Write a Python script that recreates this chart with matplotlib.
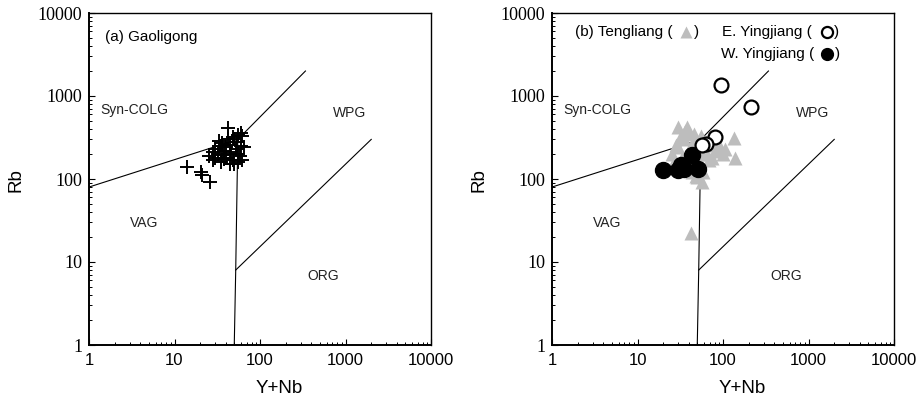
import numpy as np
import matplotlib
matplotlib.use("Agg")
from matplotlib import pyplot as plt

plt.rcParams['font.family'] = 'Liberation Sans'

# Pearce et al. (1984) boundary lines (Y+Nb, Rb)
colg_vag = ([1, 55], [80, 300])
colg_wpg = ([55, 340], [300, 2000])
vag_org = ([50, 52, 55], [1, 8, 300])
wpg_org = ([52, 2000], [8, 300])

region_names = ["Syn-COLG", "WPG", "VAG", "ORG"]
region_x = [3.4, 1110, 4.4, 555]
region_y = [680, 620, 29.5, 6.8]

# (a) Gaoligong
gao_x = [42, 14, 20.5, 21, 26, 60, 55, 65, 62, 25, 28, 30, 32, 34, 36, 38, 40, 42, 44,
         46, 48, 50, 52, 54, 56, 58, 60, 35, 30, 45, 50, 40, 33, 48, 55, 38, 28, 62, 44, 36]
gao_y = [410, 140, 122, 112, 92, 360, 340, 240, 330, 190, 210, 230, 200, 250, 270, 220,
         180, 300, 260, 200, 170, 150, 230, 280, 160, 190, 250, 160, 180, 150, 300, 240,
         290, 320, 200, 175, 170, 170, 210, 195]

# (b) Tengliang
ten_x = [30, 38, 134, 137, 57, 42.5, 25, 28, 32, 35, 40, 45, 50, 55, 60, 65, 70, 80, 90,
         100, 27, 33, 37, 43, 48, 52, 58, 63, 75, 85, 30, 36, 46, 54, 68, 105, 42, 50]
ten_y = [420, 420, 313, 179, 92, 22.4, 200, 260, 330, 300, 360, 280, 250, 330, 230, 200,
         260, 220, 240, 200, 160, 180, 140, 120, 110, 160, 120, 280, 180, 290, 240, 380,
         350, 200, 170, 230, 130, 105]

# E. Yingjiang
ey_x = [95, 212, 81, 63.5, 57]
ey_y = [1360, 735, 322, 264, 256]

# W. Yingjiang
wy_x = [20, 32.5, 35, 43.5, 51, 30]
wy_y = [128, 147, 132, 194, 132, 130]

fig = plt.figure(figsize=(9.19, 3.97), dpi=100)
W, H = 919.0, 397.0
ax1 = fig.add_axes([89 / W, 1 - 345 / H, 342 / W, 332 / H])
ax2 = fig.add_axes([552 / W, 1 - 345 / H, 342 / W, 332 / H])

for ax in (ax1, ax2):
    ax.set_xscale('log')
    ax.set_yscale('log')
    ax.set_xlim(1, 10000)
    ax.set_ylim(1, 10000)
    for xs, ys in (colg_vag, colg_wpg, vag_org, wpg_org):
        ax.plot(xs, ys, color='black', lw=0.8, zorder=2)
    for name, x, y in zip(region_names, region_x, region_y):
        ax.text(x, y, name, fontsize=10, ha='center', va='center', color='#222222')
    ax.set_xticks([1, 10, 100, 1000, 10000])
    ax.set_xticklabels(['1', '10', '100', '1000', '10000'], fontsize=12)
    ax.set_yticks([1, 10, 100, 1000, 10000])
    ax.set_yticklabels(['1', '10', '100', '1000', '10000'], fontsize=13,
                       family='Liberation Serif')
    ax.tick_params(which='both', direction='in', top=False, right=False)
    ax.tick_params(which='major', length=4, width=0.8)
    ax.tick_params(which='minor', length=2.5, width=0.7)
    ax.tick_params(axis='x', pad=6)
    ax.tick_params(axis='y', pad=5)
    for s in ax.spines.values():
        s.set_linewidth(1.0)
    ax.spines['bottom'].set_linewidth(1.4)
    ax.spines['left'].set_linewidth(1.4)
    ax.set_xlabel('Y+Nb', fontsize=13.5)
    ax.set_ylabel('Rb', fontsize=13.5)
    ax.xaxis.set_label_coords(0.556, -0.105)

ax1.yaxis.set_label_coords(-0.19, 0.497)
ax2.yaxis.set_label_coords(-0.19, 0.497)

ax1.plot(gao_x, gao_y, '+', color='black', ms=10, mew=1.4, zorder=3)
ax1.text(0.047, 0.928, '(a) Gaoligong', transform=ax1.transAxes, fontsize=11,
         ha='left', va='center')

ax2.plot(ten_x, ten_y, '^', color='#bdbdbd', ms=9.5, mec='none', zorder=3)
ax2.plot(wy_x, wy_y, 'o', color='black', ms=11.5, mec='black', zorder=4)
ax2.plot(ey_x, ey_y, 'o', mfc='white', mec='black', ms=10, mew=1.6, zorder=5)

# header text with marker symbols
ax2.text(0.067, 0.943, '(b) Tengliang (', transform=ax2.transAxes, fontsize=11,
         ha='left', va='center')
ax2.plot([0.393], [0.943], '^', color='#bdbdbd', ms=9, mec='none', transform=ax2.transAxes)
ax2.text(0.414, 0.943, ')', transform=ax2.transAxes, fontsize=11, ha='left', va='center')
ax2.text(0.497, 0.943, 'E. Yingjiang (', transform=ax2.transAxes, fontsize=11,
         ha='left', va='center')
ax2.plot([0.803], [0.943], 'o', mfc='white', mec='black', ms=8, mew=1.6,
         transform=ax2.transAxes)
ax2.text(0.824, 0.943, ')', transform=ax2.transAxes, fontsize=11, ha='left', va='center')
ax2.text(0.494, 0.877, 'W. Yingjiang (', transform=ax2.transAxes, fontsize=11,
         ha='left', va='center')
ax2.plot([0.805], [0.877], 'o', color='black', ms=8.5, transform=ax2.transAxes)
ax2.text(0.827, 0.877, ')', transform=ax2.transAxes, fontsize=11, ha='left', va='center')

fig.savefig('out.png', dpi=100)
